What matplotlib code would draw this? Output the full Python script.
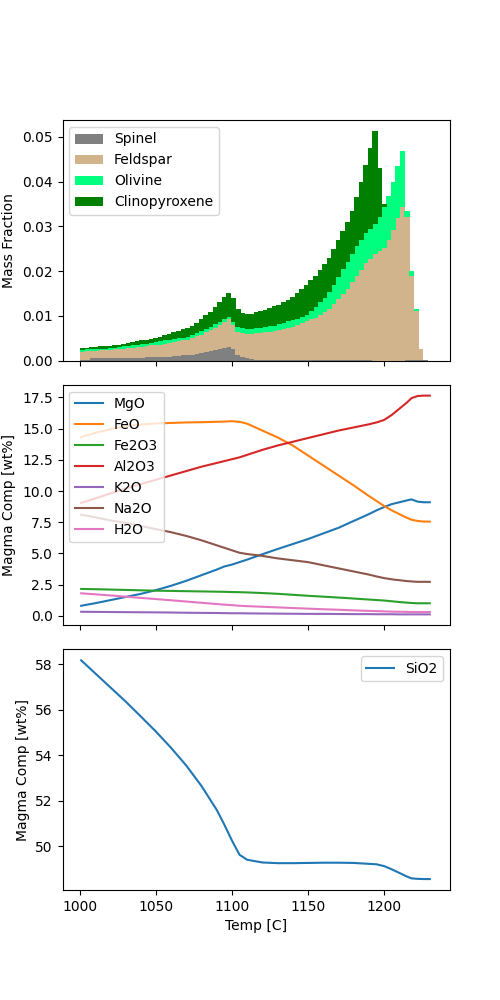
import numpy as np
import matplotlib.pyplot as plt

# crystallising phases, one bar every 3 C (mass fraction in units of 1e-4)
temp_bar = np.arange(1002, 1231, 3)
spinel = np.array([2, 2, 5, 5, 5, 5, 5, 5, 5, 5, 5, 5, 6, 6, 7, 7, 7, 8, 9, 9,
                   10, 11, 12, 12, 13, 15, 17, 19, 22, 24, 26, 28, 30, 25, 13, 7, 5, 3, 2, 2,
                   2, 2, 2, 2, 2, 2, 2, 2, 2, 2, 2, 2, 2, 2, 2, 2, 2, 2, 2, 2,
                   2, 2, 2, 2, 0, 0, 0, 0, 0, 0, 0, 2, 2, 2, 2, 2, 0]) * 1e-4
feldspar = np.array([18, 19, 16, 17, 18, 18, 19, 20, 21, 22, 23, 24, 24, 25, 25, 27, 28, 28, 29, 31,
                     31, 32, 33, 35, 37, 39, 41, 44, 46, 49, 53, 58, 62, 54, 51, 54, 55, 57, 59, 60,
                     61, 63, 64, 66, 69, 72, 74, 77, 81, 86, 90, 94, 100, 107, 114, 124, 135, 147, 159, 173,
                     188, 201, 216, 226, 238, 244, 252, 270, 292, 318, 343, 318, 188, 108, 23, 0, 0]) * 1e-4
olivine = np.array([4, 4, 4, 4, 4, 4, 4, 4, 4, 5, 5, 5, 5, 6, 6, 6, 7, 7, 7, 7,
                    7, 7, 6, 6, 7, 8, 8, 8, 8, 8, 8, 7, 6, 8, 11, 11, 11, 11, 11, 11,
                    12, 12, 12, 13, 14, 15, 15, 15, 15, 15, 18, 24, 28, 32, 38, 44, 50, 55, 60, 63,
                    65, 67, 67, 67, 67, 78, 91, 98, 106, 117, 126, 15, 10, 5, 0, 0, 0]) * 1e-4
cpx = np.array([4, 4, 5, 5, 5, 5, 5, 6, 6, 6, 7, 7, 8, 8, 9, 9, 9, 10, 12, 13,
                16, 17, 20, 21, 21, 23, 27, 30, 33, 39, 45, 50, 54, 53, 40, 34, 33, 34, 36, 38,
                39, 41, 43, 44, 45, 46, 52, 58, 62, 67, 70, 70, 72, 74, 76, 80, 83, 86, 89, 97,
                110, 130, 152, 180, 207, 108, 7, 0, 0, 0, 0, 0, 0, 0, 0, 0, 0]) * 1e-4

phases = ["Spinel", "Feldspar", "Olivine", "Clinopyroxene"]
phase_colors = ["grey", "tan", "springgreen", "green"]

# liquid composition [wt%]
temp = np.array([1001, 1010, 1020, 1030, 1040, 1050, 1060, 1070, 1080, 1090, 1095,
                 1100, 1105, 1110, 1120, 1130, 1140, 1150, 1160, 1170, 1180, 1190,
                 1195, 1200, 1205, 1210, 1215, 1218, 1222, 1226, 1230])
mgo = [0.8, 1.0, 1.25, 1.5, 1.75, 2.05, 2.4, 2.8, 3.25, 3.7, 3.95,
       4.1, 4.3, 4.5, 4.93, 5.35, 5.75, 6.15, 6.6, 7.05, 7.6, 8.15,
       8.45, 8.72, 8.95, 9.1, 9.25, 9.33, 9.15, 9.1, 9.1]
feo = [14.33, 14.65, 14.95, 15.2, 15.33, 15.42, 15.46, 15.5, 15.52, 15.55, 15.57,
       15.6, 15.55, 15.4, 14.85, 14.3, 13.65, 12.85, 12.05, 11.25, 10.45, 9.6,
       9.2, 8.8, 8.45, 8.15, 7.85, 7.7, 7.6, 7.55, 7.55]
fe2o3 = [2.15, 2.13, 2.1, 2.07, 2.04, 2.01, 1.99, 1.97, 1.95, 1.93, 1.92,
         1.9, 1.89, 1.87, 1.82, 1.76, 1.68, 1.6, 1.53, 1.46, 1.38, 1.3,
         1.26, 1.22, 1.16, 1.1, 1.05, 1.02, 1.0, 1.0, 1.0]
al2o3 = [9.05, 9.4, 9.8, 10.2, 10.55, 10.9, 11.25, 11.6, 11.95, 12.25, 12.4,
         12.55, 12.7, 12.9, 13.3, 13.65, 13.95, 14.25, 14.55, 14.85, 15.1, 15.35,
         15.5, 15.7, 16.1, 16.6, 17.1, 17.45, 17.62, 17.65, 17.65]
k2o = [0.32, 0.31, 0.3, 0.29, 0.28, 0.27, 0.26, 0.24, 0.23, 0.22, 0.21,
       0.2, 0.2, 0.19, 0.18, 0.17, 0.16, 0.15, 0.15, 0.14, 0.13, 0.13,
       0.12, 0.12, 0.12, 0.11, 0.11, 0.11, 0.11, 0.11, 0.11]
na2o = [8.1, 7.9, 7.65, 7.45, 7.2, 6.95, 6.7, 6.4, 6.05, 5.65, 5.45,
        5.25, 5.05, 4.95, 4.8, 4.6, 4.45, 4.3, 4.05, 3.8, 3.55, 3.3,
        3.15, 3.02, 2.92, 2.85, 2.78, 2.75, 2.72, 2.72, 2.72]
h2o = [1.8, 1.72, 1.63, 1.53, 1.43, 1.34, 1.24, 1.14, 1.04, 0.94, 0.89,
       0.85, 0.8, 0.77, 0.72, 0.67, 0.62, 0.57, 0.52, 0.48, 0.43, 0.39,
       0.37, 0.35, 0.33, 0.32, 0.31, 0.3, 0.3, 0.3, 0.3]
sio2 = [58.18, 57.62, 57.0, 56.38, 55.72, 55.05, 54.33, 53.55, 52.65, 51.6, 50.95,
        50.25, 49.62, 49.4, 49.28, 49.25, 49.25, 49.26, 49.27, 49.27, 49.26, 49.22,
        49.2, 49.12, 48.98, 48.82, 48.66, 48.58, 48.56, 48.55, 48.55]

fig, axes = plt.subplots(3, 1, sharex=True, figsize=(5, 10))
fig.subplots_adjust(hspace=0.1)

ax = axes[0]
bottom = np.zeros(len(temp_bar))
for vals, name, color in zip([spinel, feldspar, olivine, cpx], phases, phase_colors):
    # slightly wider than the 3 C step so neighbouring bars touch without seams
    ax.bar(temp_bar, vals, width=3.4, bottom=bottom, color=color, label=name,
           linewidth=0, antialiased=False)
    bottom = bottom + vals
ax.set_ylabel("Mass Fraction")
ax.legend(loc="upper left")

ax = axes[1]
oxides = {"MgO": mgo, "FeO": feo, "Fe2O3": fe2o3, "Al2O3": al2o3,
          "K2O": k2o, "Na2O": na2o, "H2O": h2o}
for name, vals in oxides.items():
    ax.plot(temp, vals, label=name)
ax.set_ylabel("Magma Comp [wt%]")
ax.legend(loc="upper left")

ax = axes[2]
ax.plot(temp, sio2, label="SiO2")
ax.set_ylabel("Magma Comp [wt%]")
ax.set_xlabel("Temp [C]")
ax.legend(loc="upper right")

fig.savefig("out.png", dpi=100)
